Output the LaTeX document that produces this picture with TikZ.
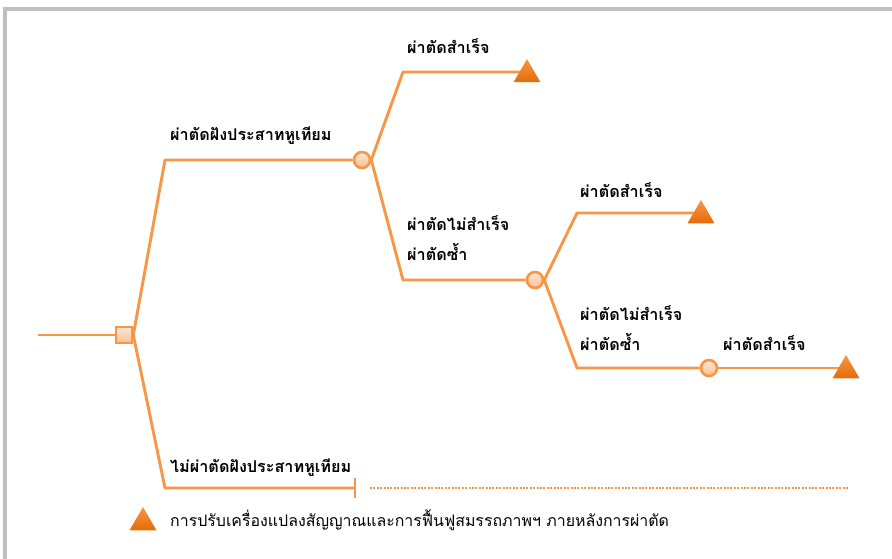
\documentclass[tikz,border=0pt]{standalone}
\usepackage{fontspec}
\newfontfamily\thai[Script=Thai]{Loma}
\usetikzlibrary{shapes.geometric,backgrounds}
\definecolor{org}{HTML}{F79646}
\definecolor{peach}{HTML}{FAC090}
\definecolor{peachlt}{HTML}{FDE7D6}
\definecolor{tritop}{HTML}{F79646}
\definecolor{tribot}{HTML}{E46C0A}
\definecolor{framegray}{HTML}{BFBFBF}
\begin{document}
\begin{tikzpicture}[x=1pt,y=-1pt,
  conn/.style={draw=org,line width=2.9pt,line join=round},
  decbox/.style={rectangle,draw=org,line width=2.6pt,minimum size=16pt,inner sep=0pt,top color=peachlt,bottom color=peach},
  chance/.style={circle,draw=org,line width=2.6pt,minimum size=16pt,inner sep=0pt,top color=peachlt,bottom color=peach},
  outcome/.style={regular polygon,regular polygon sides=3,minimum size=31pt,inner sep=0pt,top color=tritop,bottom color=tribot,draw=none},
  lbl/.style={anchor=base west,inner sep=0pt,font=\thai\bfseries\fontsize{16.2}{18}\selectfont},
  legendtext/.style={anchor=base west,inner sep=0pt,font=\thai\fontsize{15.9}{18}\selectfont},
  ]
\useasboundingbox (0,0) rectangle (892,559);

% coordinates
\coordinate (start) at (38,335);
\coordinate (k1) at (165,160);
\coordinate (k2) at (403,72);
\coordinate (k3) at (403,280);
\coordinate (k4) at (577,213);
\coordinate (k5) at (577,368);
\coordinate (k6) at (165,488);
\coordinate (bar) at (355,488);
\coordinate (barT) at (355,478);
\coordinate (barB) at (355,498);
\coordinate (d1) at (370,488);
\coordinate (d2) at (848,488);

% nodes
\node[decbox] (sq) at (124,335) {};
\node[chance] (c1) at (362,160) {};
\node[chance] (c2) at (535,280) {};
\node[chance] (c3) at (709,368) {};
\node[outcome] (t1) at (527,74.5) {};
\node[outcome] (t2) at (701,215.5) {};
\node[outcome] (t3) at (846,370.5) {};
\node[outcome] (tleg) at (143,522.5) {};

% connectors
\begin{scope}[on background layer]
\fill[white] (0,0) rectangle (892,559);
\draw[framegray,line width=4pt] (3,8.8) -- (892,8.8);
\draw[framegray,line width=4pt] (5,8.8) -- (5,559);
\draw[conn] (start) -- (sq.west);
\draw[conn] (sq.east) -- (k1) -- (c1.west);
\draw[conn] (sq.east) -- (k6) -- (bar);
\draw[conn] (barT) -- (barB);
\draw[org,line width=2.4pt,dash pattern=on 2pt off 1.4pt] (d1) -- (d2);
\draw[conn] (c1.east) -- (k2) -- (k2 -| t1);
\draw[conn] (c1.east) -- (k3) -- (c2.west);
\draw[conn] (c2.east) -- (k4) -- (k4 -| t2);
\draw[conn] (c2.east) -- (k5) -- (c3.west);
\draw[conn] (c3.east) -- (k5 -| t3);
\end{scope}

% labels
\node[lbl] (l1) at (407,54) {ผ่าตัดสำเร็จ};
\node[lbl] (l2) at (170,141) {ผ่าตัดฝังประสาทหูเทียม};
\node[lbl] (l3) at (407,230) {ผ่าตัดไม่สำเร็จ};
\node[lbl] (l4) at (407,260) {ผ่าตัดซ้ำ};
\node[lbl] (l5) at (580,197) {ผ่าตัดสำเร็จ};
\node[lbl] (l6) at (580,320) {ผ่าตัดไม่สำเร็จ};
\node[lbl] (l7) at (580,350) {ผ่าตัดซ้ำ};
\node[lbl] (l8) at (723,350) {ผ่าตัดสำเร็จ};
\node[lbl] (l9) at (170,472) {ไม่ผ่าตัดฝังประสาทหูเทียม};
\node[legendtext] (leg) at (170,526) {การปรับเครื่องแปลงสัญญาณและการฟื้นฟูสมรรถภาพฯ ภายหลังการผ่าตัด};
\end{tikzpicture}
\end{document}
